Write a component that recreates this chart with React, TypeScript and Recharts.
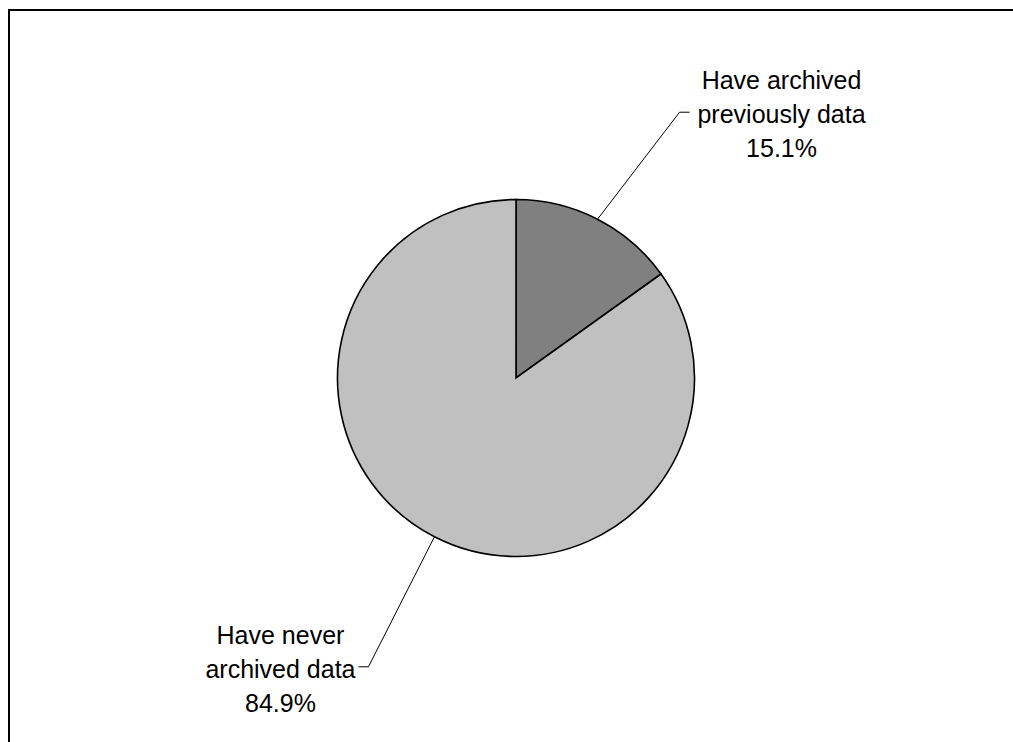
import React from "react";
import { PieChart, Pie, Cell } from "recharts";

// Survey answers: share of respondents by archiving experience
const categories = ["Have archived previously data", "Have never archived data"];
const shares = [15.1, 84.9];
const sliceColors = ["#808080", "#C0C0C0"];

// Leader-line layout per slice: elbow offset from the slice edge, tick length,
// and horizontal offset of the label block centre from the tick end.
const leaderLayout = [
  { dx: 82, dy: -107, tick: 10, textDx: 92 },
  { dx: -66, dy: 130, tick: -10, textDx: -78 },
];

const data = categories.map((name, i) => ({ name, value: shares[i] }));

const RAD = Math.PI / 180;
const FONT = "'Liberation Sans', Arial, sans-serif";
const LINE_GAP = 34;

function wrap(text: string, max: number): string[] {
  const words = text.split(" ");
  const lines: string[] = [];
  let cur = "";
  for (const w of words) {
    const next = cur ? cur + " " + w : w;
    if (next.length > max && cur) {
      lines.push(cur);
      cur = w;
    } else {
      cur = next;
    }
  }
  if (cur) lines.push(cur);
  return lines;
}

function renderLabel(props: any) {
  const { cx, cy, midAngle, outerRadius, index, name, value } = props;
  const layout = leaderLayout[index];
  const ex = cx + outerRadius * Math.cos(-midAngle * RAD);
  const ey = cy + outerRadius * Math.sin(-midAngle * RAD);
  const bx = ex + layout.dx;
  const by = ey + layout.dy;
  const tx = bx + layout.tick;
  const lines = [...wrap(name, 15), `${Number(value).toFixed(1)}%`];
  const centerX = tx + layout.textDx;
  const midBaseline = by + 11;
  const firstBaseline = midBaseline - LINE_GAP * (lines.length - 2);
  return (
    <g key={`label-${index}`}>
      <path
        d={`M${ex},${ey}L${bx},${by}L${tx},${by}`}
        stroke="#000"
        strokeWidth={1}
        fill="none"
      />
      <text
        x={centerX}
        y={firstBaseline}
        textAnchor="middle"
        fontFamily={FONT}
        fontSize={25}
        fill="#000"
      >
        {lines.map((ln, i) => (
          <tspan key={i} x={centerX} y={firstBaseline + i * LINE_GAP}>
            {ln}
          </tspan>
        ))}
      </text>
    </g>
  );
}

export default function App() {
  return (
    <>
      <style>{"html,body{overflow:hidden;margin:0;padding:0;}"}</style>
      <div
        style={{
          width: 1013,
          height: 742,
          boxSizing: "border-box",
          paddingLeft: 8,
          paddingTop: 9,
          background: "#fff",
          overflow: "hidden",
        }}
      >
        <div
          style={{
            width: 1005,
            height: 733,
            boxSizing: "border-box",
            borderTop: "2px solid #000",
            borderLeft: "2px solid #000",
            overflow: "hidden",
          }}
        >
          <PieChart
            width={1000}
            height={728}
            margin={{ top: 0, right: 0, bottom: 0, left: 0 }}
          >
            <Pie
              data={data}
              dataKey="value"
              nameKey="name"
              cx={506}
              cy={367}
              outerRadius={178.5}
              startAngle={90}
              endAngle={-270}
              stroke="#000"
              strokeWidth={1.6}
              label={renderLabel}
              labelLine={false}
              isAnimationActive={false}
            >
              {data.map((d, i) => (
                <Cell key={d.name} fill={sliceColors[i]} />
              ))}
            </Pie>
          </PieChart>
        </div>
      </div>
    </>
  );
}
